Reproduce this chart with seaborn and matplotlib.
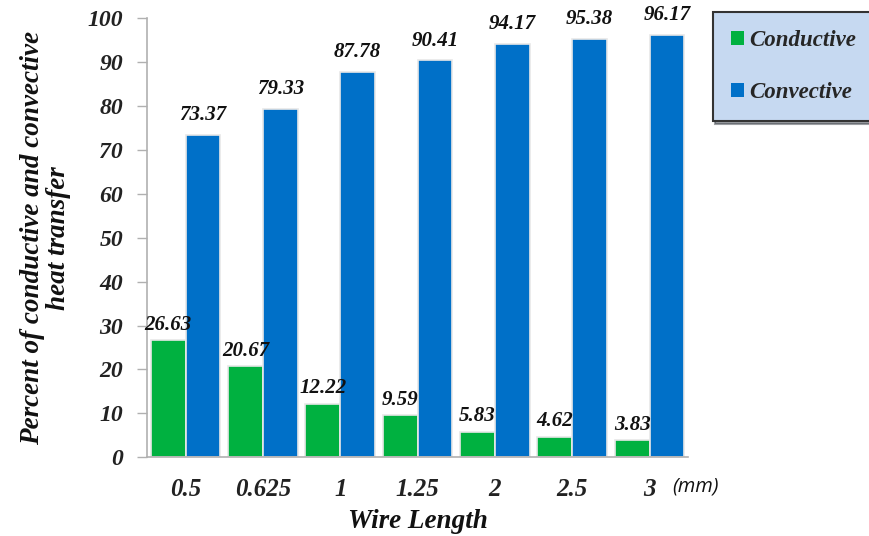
import matplotlib
matplotlib.use("Agg")
import matplotlib.pyplot as plt
import seaborn as sns
import pandas as pd

wire_lengths = ["0.5", "0.625", "1", "1.25", "2", "2.5", "3"]
conductive = [26.63, 20.67, 12.22, 9.59, 5.83, 4.62, 3.83]
convective = [73.37, 79.33, 87.78, 90.41, 94.17, 95.38, 96.17]
series_names = ["Conductive", "Convective"]
series_colors = ["#00b140", "#0070c8"]

df = pd.DataFrame({
    "Wire Length": wire_lengths * 2,
    "Percent": conductive + convective,
    "Mode": [series_names[0]] * len(wire_lengths) + [series_names[1]] * len(wire_lengths),
})

sns.set_theme(style="white")
plt.rcParams["font.family"] = ["Liberation Serif", "DejaVu Serif"]

fig = plt.figure(figsize=(8.69, 5.36), dpi=100)
ax = fig.add_axes([0.169, 0.147, 0.623, 0.819])

sns.barplot(data=df, x="Wire Length", y="Percent", hue="Mode", order=wire_lengths,
            hue_order=series_names, palette=series_colors, width=0.9, saturation=1,
            edgecolor="#e8e8e8", linewidth=1.2, ax=ax, legend=False)

# value labels over each bar
for i, (cont, vals) in enumerate(zip(ax.containers, [conductive, convective])):
    labels = [f"{v:.2f}" for v in vals]
    ax.bar_label(cont, labels=labels, padding=4 if i == 0 else 7, fontsize=15,
                 fontweight="bold", fontstyle="italic", color="#111111")

ax.set_xlim(-0.5, len(wire_lengths) - 0.5)
ax.set_ylim(0, 100)
ax.set_yticks(range(0, 101, 10))
ax.set_yticklabels([str(v) for v in range(0, 101, 10)], fontsize=17,
                   fontweight="bold", fontstyle="italic", color="#222222")
ax.set_xticks(range(len(wire_lengths)))
ax.set_xticklabels(wire_lengths, fontsize=18, fontweight="bold",
                   fontstyle="italic", color="#222222")
ax.tick_params(axis="x", which="major", length=0, pad=15)
ax.set_xticks([i - 0.5 for i in range(len(wire_lengths) + 1)], minor=True)
ax.tick_params(axis="x", which="minor", length=6, color="#b0b0b0", width=1)
ax.tick_params(axis="y", length=7, color="#b0b0b0", width=1, pad=10, left=True)

for side in ["top", "right"]:
    ax.spines[side].set_visible(False)
for side in ["left", "bottom"]:
    ax.spines[side].set_color("#b0b0b0")
    ax.spines[side].set_linewidth(1.2)

ax.set_xlabel("Wire Length", fontsize=19.5, fontweight="bold", fontstyle="italic",
              color="#111111", labelpad=6)
ax.set_ylabel("Percent of conductive and convective\nheat transfer", fontsize=19.5,
              fontweight="bold", fontstyle="italic", color="#111111",
              linespacing=1.05, labelpad=12)

fig.text(0.773, 0.092, "(mm)", fontsize=14.5, fontstyle="italic",
         family=["Open Sans", "DejaVu Sans"], color="#111111", va="center")

handles = [plt.Rectangle((0, 0), 1, 1, facecolor=c, edgecolor="none") for c in series_colors]
leg = fig.legend(handles, series_names, loc="upper left",
                 bbox_to_anchor=(0.820, 0.978), borderaxespad=0, frameon=True,
                 fancybox=False, shadow=True, facecolor="#c6d9f1", edgecolor="#333333",
                 handlelength=0.55, handleheight=0.55, handletextpad=0.25,
                 labelspacing=1.35, borderpad=0.8,
                 prop={"size": 16.5, "weight": "bold", "style": "italic"})
leg.get_frame().set_linewidth(1.5)
leg.get_frame().set_alpha(1)

fig.savefig("out.png", dpi=100)
